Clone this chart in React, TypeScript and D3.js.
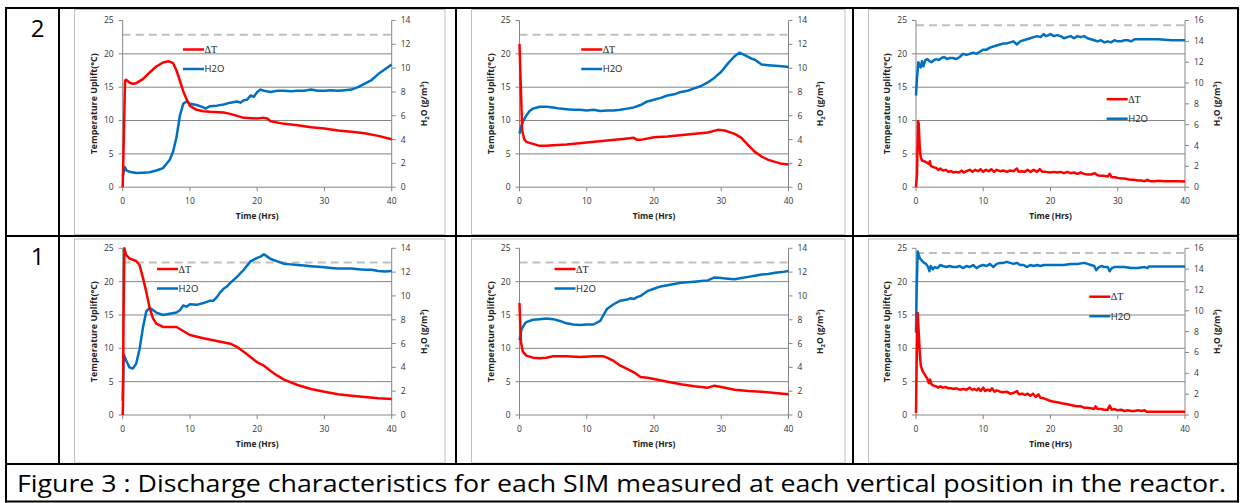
import React from 'react';
import * as d3 from 'd3';

type P = [number, number];

// ---------- axis ticks / labels ----------
const timeTicks = [0, 10, 20, 30, 40];
const tempTicks = [0, 5, 10, 15, 20, 25];
const tempGrid = [5, 10, 15, 20];
const h2oTicks14 = [0, 2, 4, 6, 8, 10, 12, 14];
const h2oTicks16 = [0, 2, 4, 6, 8, 10, 12, 14, 16];
const rowLabels = ['2', '1'];
const caption = 'Figure 3 : Discharge characteristics for each SIM measured at each vertical position in the reactor.';
const xTitle = 'Time (Hrs)';
const yTitle = 'Temperature Uplift(\u00B0C)';
const legendDT = '\u0394T';
const legendH2O = 'H2O';
// dashed reference line (right axis value) per column
const refLine = [12.8, 12.8, 15.55];

// ---------- data: position 2 (top row) ----------
const r2s1_dT: P[] = [[0,0],[0.2,9],[0.35,16],[0.5,16.1],[1,15.7],[1.5,15.5],[2,15.6],[3,16.2],[4,17.2],[5,18.1],[6,18.7],[6.8,18.9],[7.5,18.6],[8,17.5],[8.5,16],[9,14.4],[9.5,13.2],[10,12.2],[11,11.6],[12,11.4],[13,11.3],[15,11.2],[16,11.0],[17,10.7],[18,10.4],[20,10.3],[21,10.4],[21.5,10.3],[22,9.9],[24,9.5],[26,9.3],[28,9.0],[30,8.8],[32,8.5],[34,8.3],[36,8.1],[38,7.7],[40,7.2]];
const r2s1_h2o: P[] = [[0,0.9],[0.3,1.7],[0.6,1.4],[1,1.3],[2,1.2],[3,1.22],[4,1.25],[5,1.4],[6,1.6],[7,2.3],[7.5,3.0],[8,4.2],[8.5,6.0],[9,7.0],[9.5,7.2],[10,7.0],[11,6.9],[12,6.7],[12.3,6.6],[13,6.8],[14,6.85],[15,6.95],[16,7.1],[17,7.2],[17.5,7.1],[18,7.3],[18.5,7.35],[19,7.7],[19.5,7.6],[20,8.0],[20.5,8.2],[21,8.1],[22,8.0],[23,8.1],[24,8.1],[25,8.05],[26,8.1],[27,8.1],[28,8.2],[29,8.1],[30,8.1],[31,8.15],[32,8.1],[33,8.15],[34,8.2],[35,8.4],[36,8.7],[37,9.0],[38,9.5],[39,9.9],[40,10.3]];
const r2s2_dT: P[] = [[0,21.5],[0.2,15],[0.4,8.5],[0.7,7.2],[1,6.8],[2,6.5],[3,6.2],[4,6.2],[5,6.3],[7,6.4],[10,6.7],[13,7.0],[15,7.2],[17,7.4],[17.5,7.1],[18,7.1],[20,7.5],[22,7.6],[25,7.9],[28,8.2],[29.5,8.6],[30.5,8.5],[32,8.0],[33,7.4],[34,6.3],[35,5.3],[36,4.6],[37,4.1],[38,3.8],[39,3.5],[40,3.4]];
const r2s2_h2o: P[] = [[0,4.5],[0.2,5.0],[0.5,5.5],[1,6.0],[1.5,6.4],[2,6.6],[3,6.75],[4,6.75],[5,6.7],[6,6.6],[7,6.55],[8,6.5],[9,6.5],[10,6.45],[11,6.5],[12,6.4],[13,6.45],[14,6.45],[15,6.5],[16,6.6],[17,6.7],[18,6.9],[19,7.2],[20,7.35],[21,7.5],[22,7.7],[23,7.8],[24,8.0],[25,8.1],[26,8.3],[27,8.5],[28,8.8],[29,9.2],[30,9.7],[31,10.4],[32,11.0],[32.7,11.3],[33.5,11.1],[34.5,10.8],[35,10.7],[36,10.3],[37,10.25],[38,10.2],[39,10.15],[40,10.1]];
const r2s3_dT: P[] = [[0,0],[0.15,2],[0.3,9.9],[0.4,9.6],[0.55,6],[0.7,4.5],[0.9,4.0],[1.2,3.9],[1.6,3.7],[1.9,3.5],[2.05,3.9],[2.2,3.2],[2.6,3.0],[3,2.9],[3.3,2.6],[3.6,2.8],[4,2.5],[4.4,2.6],[4.8,2.3],[5.2,2.4],[5.6,2.2],[6,2.3],[6.4,2.2],[6.8,2.5],[7.1,2.2],[7.5,2.4],[8,2.6],[8.4,2.3],[8.8,2.6],[9.2,2.4],[9.6,2.7],[10,2.3],[10.4,2.6],[10.8,2.4],[11.2,2.7],[11.6,2.3],[12,2.6],[12.5,2.4],[13,2.5],[13.5,2.3],[14,2.5],[14.5,2.4],[15,2.8],[15.3,2.3],[15.8,2.4],[16.2,2.3],[16.6,2.6],[17,2.3],[17.5,2.6],[18,2.3],[18.4,2.7],[18.8,2.3],[19.3,2.3],[20,2.2],[20.5,2.3],[21,2.2],[21.5,2.3],[22,2.1],[22.5,2.3],[23,2.1],[23.5,2.2],[24,2.0],[24.5,2.2],[25,2.0],[25.5,1.9],[26,1.9],[26.6,2.1],[27,1.8],[27.5,1.7],[28,1.7],[28.5,1.6],[28.8,2.0],[29.1,1.5],[29.6,1.5],[30,1.4],[30.5,1.3],[31,1.3],[31.5,1.2],[32,1.1],[32.5,1.1],[33,1.0],[33.5,1.0],[34,0.9],[34.4,1.1],[34.8,0.9],[35.5,0.9],[36,0.95],[37,0.9],[38,0.9],[39,0.9],[40,0.85]];
const r2s3_h2o: P[] = [[0,8.8],[0.15,10.5],[0.35,12.0],[0.5,11.7],[0.7,11.5],[0.9,12.1],[1.1,11.6],[1.4,12.2],[1.7,12.3],[2,12.1],[2.3,12.0],[2.7,12.2],[3,12.3],[3.4,12.2],[3.8,12.4],[4.2,12.5],[4.6,12.3],[5,12.4],[5.5,12.4],[6,12.3],[6.5,12.5],[7,12.8],[7.5,12.7],[8,12.8],[8.5,12.9],[9,12.8],[9.5,13.0],[10,13.2],[10.5,13.2],[11,13.4],[11.5,13.5],[12,13.6],[12.5,13.7],[13,13.8],[13.5,13.8],[14,13.9],[14.5,14.0],[15,13.7],[15.5,14.0],[16,14.1],[16.5,14.2],[17,14.3],[17.5,14.4],[18,14.5],[18.5,14.4],[19,14.7],[19.3,14.5],[19.7,14.6],[20,14.7],[20.5,14.5],[21,14.6],[21.5,14.5],[22,14.3],[22.5,14.4],[23,14.5],[23.5,14.3],[24,14.5],[24.5,14.4],[25,14.5],[25.5,14.3],[26,14.2],[26.5,14.1],[27,14.0],[27.5,14.1],[28,13.9],[28.5,14.0],[29,13.9],[29.5,14.1],[30,14.0],[30.5,14.0],[31,14.1],[31.5,14.1],[32,14.0],[32.5,14.2],[33,14.2],[34,14.2],[35,14.2],[36,14.2],[37,14.15],[38,14.1],[39,14.1],[40,14.1]];

// ---------- data: position 1 (bottom row) ----------
const r1s1_dT: P[] = [[0,0],[0.05,2],[0.12,14],[0.25,25],[0.5,24],[1,23.5],[2,23.1],[2.5,22.5],[3,20.6],[3.5,18.5],[4,16.1],[4.5,14.5],[5,13.7],[6,13.2],[7,13.2],[8,13.2],[9,12.6],[10,12.0],[12,11.5],[14,11.1],[16,10.7],[17,10.2],[18,9.5],[19,8.7],[20,7.9],[21,7.4],[22,6.6],[23,5.9],[24,5.3],[26,4.5],[28,3.9],[30,3.5],[32,3.1],[34,2.9],[36,2.7],[38,2.5],[40,2.4]];
const r1s1_h2o: P[] = [[0,1.2],[0.15,5.1],[0.5,4.6],[1,4.0],[1.5,3.9],[2,4.3],[2.5,5.5],[3,7.3],[3.5,8.7],[4,9.0],[5,8.6],[6,8.4],[7,8.5],[8,8.6],[8.5,8.8],[9,9.2],[9.5,9.1],[10,9.3],[11,9.25],[12,9.4],[12.5,9.5],[13,9.6],[13.5,9.6],[14,9.9],[14.5,10.3],[15,10.6],[15.5,10.8],[16,11.1],[17,11.6],[18,12.2],[19,12.9],[20,13.2],[20.5,13.3],[21,13.5],[21.5,13.3],[22,13.1],[23,12.9],[24,12.7],[25,12.65],[26,12.6],[27,12.55],[28,12.5],[29,12.45],[30,12.4],[31,12.35],[32,12.3],[33,12.3],[34,12.3],[35,12.25],[36,12.2],[37,12.2],[38,12.1],[39,12.05],[40,12.1]];
const r1s2_dT: P[] = [[0,16.8],[0.2,11],[0.5,9.5],[1,8.9],[2,8.6],[3,8.5],[4,8.6],[5,8.8],[7,8.8],[9,8.7],[11,8.8],[12.5,8.8],[13,8.6],[14,8.1],[15,7.4],[16,6.9],[17,6.4],[18,5.7],[19,5.6],[20,5.4],[22,5.0],[24,4.6],[26,4.3],[28,4.1],[29,4.4],[30,4.2],[32,3.8],[34,3.6],[36,3.5],[38,3.3],[40,3.1]];
const r1s2_h2o: P[] = [[0,6.3],[0.3,7.2],[0.7,7.6],[1,7.8],[2,8.0],[3,8.05],[4,8.1],[5,8.05],[6,7.9],[7,7.7],[8,7.6],[9,7.55],[10,7.6],[11,7.6],[12,7.9],[12.5,8.4],[13,8.9],[14,9.3],[15,9.6],[16,9.7],[16.5,9.8],[17,9.75],[17.5,9.9],[18,10.0],[19,10.4],[20,10.6],[21,10.8],[22,10.9],[23,11.0],[24,11.1],[25,11.15],[26,11.2],[27,11.25],[28,11.3],[29,11.55],[30,11.5],[31,11.45],[32,11.4],[33,11.5],[34,11.6],[35,11.7],[36,11.8],[37,11.85],[38,11.95],[39,12.0],[40,12.1]];
const r1s3_dT: P[] = [[0,0.3],[0.1,8],[0.25,15.3],[0.4,12.5],[0.55,9.5],[0.7,7.5],[0.9,6.8],[1.1,6.4],[1.4,5.9],[1.7,5.4],[1.9,4.8],[2.1,5.3],[2.3,4.6],[2.6,4.4],[3,4.3],[3.3,4.1],[3.6,4.3],[4,4.1],[4.4,4.2],[4.8,4.0],[5.2,4.0],[5.6,3.9],[6,4.0],[6.5,3.8],[7,3.9],[7.5,3.8],[8,4.1],[8.3,3.8],[8.7,3.9],[9,3.7],[9.3,4.0],[9.6,3.6],[10,4.1],[10.3,3.6],[10.7,3.8],[11,3.6],[11.3,4.0],[11.7,3.5],[12,3.7],[12.5,3.5],[13,3.4],[13.5,3.5],[14,3.2],[14.5,3.3],[15,3.6],[15.3,3.1],[15.8,3.2],[16.2,3.0],[16.6,3.2],[17,2.9],[17.4,3.2],[17.8,2.7],[18.2,3.1],[18.5,2.6],[19,2.5],[19.5,2.3],[20,2.1],[20.5,2.0],[21,1.9],[21.5,1.8],[22,1.7],[22.5,1.6],[23,1.5],[23.5,1.4],[24,1.3],[24.5,1.3],[25,1.1],[25.5,1.1],[26,1.0],[26.5,0.9],[26.7,1.3],[27,0.9],[27.5,0.9],[28,0.8],[28.5,0.8],[28.8,1.4],[29.1,0.8],[29.5,0.9],[30,0.7],[30.5,0.8],[31,0.6],[31.5,0.7],[32,0.6],[32.5,0.6],[33,0.7],[33.5,0.6],[34,0.7],[34.3,0.5],[35,0.5],[40,0.5]];
const r1s3_h2o: P[] = [[0,7.9],[0.1,12],[0.25,15.7],[0.4,15.4],[0.6,15.0],[0.9,14.8],[1.2,14.6],[1.5,14.5],[1.8,14.2],[2.0,13.8],[2.2,14.3],[2.5,14.0],[2.8,14.2],[3.2,14.1],[3.6,14.4],[4,14.3],[4.5,14.2],[5,14.3],[5.5,14.2],[6,14.2],[6.5,14.3],[7,14.1],[7.5,14.3],[8,14.2],[8.5,14.4],[9,14.1],[9.5,14.3],[10,14.4],[10.5,14.3],[11,14.5],[11.5,14.2],[12,14.5],[12.5,14.6],[13,14.6],[13.5,14.7],[14,14.6],[14.5,14.5],[15,14.6],[15.5,14.4],[16,14.4],[16.5,14.2],[17,14.4],[17.5,14.3],[18,14.4],[18.5,14.3],[19,14.4],[19.5,14.4],[20,14.4],[21,14.4],[22,14.4],[23,14.5],[24,14.5],[25,14.6],[25.5,14.5],[26,14.4],[26.5,14.3],[26.8,13.9],[27.2,14.2],[27.6,14.3],[28,14.2],[28.5,14.2],[28.8,13.8],[29.1,14.1],[29.5,14.2],[30,14.2],[31,14.2],[32,14.1],[33,14.1],[34,14.2],[34.4,14.1],[34.6,14.25],[40,14.25]];

const dTSeries = [[r2s1_dT, r2s2_dT, r2s3_dT], [r1s1_dT, r1s2_dT, r1s3_dT]];
const h2oSeries = [[r2s1_h2o, r2s2_h2o, r2s3_h2o], [r1s1_h2o, r1s2_h2o, r1s3_h2o]];
const h2oTicksByCol = [h2oTicks14, h2oTicks14, h2oTicks16];

// ---------- layout ----------
const COL_PLOT_L = [122.7, 519.5, 916];
const PLOT_W = 269;
const ROW_PLOT_T = [20.5, 248.3];
const PLOT_H = 166.7;
const FRAME_X = [[74, 444.5], [471, 844.5], [868, 1260]];
const FRAME_Y = [[9, 234], [238.5, 462.5]];
const LEGEND_OFF = [[[60.3, 29], [61.7, 29], [190.7, 78.7]], [[34.3, 20.7], [35, 20.7], [173.3, 48.4]]];

const RED = '#FF0000';
const BLUE = '#0070C0';
const GRID = '#868686';
const SANS = "'Open Sans', 'Liberation Sans', sans-serif";
const NARROW = "'Liberation Sans Narrow', 'Open Sans', sans-serif";
const SERIF = "'Liberation Serif', 'DejaVu Serif', serif";

function Chart({ row, col }: { row: number; col: number }) {
  const L = COL_PLOT_L[col];
  const R = L + PLOT_W;
  const T = ROW_PLOT_T[row];
  const B = T + PLOT_H;
  const rTicks = h2oTicksByCol[col];
  const rMax = rTicks[rTicks.length - 1];
  const x = d3.scaleLinear().domain([0, 40]).range([L, R]);
  const yL = d3.scaleLinear().domain([0, 25]).range([B, T]);
  const yR = d3.scaleLinear().domain([0, rMax]).range([B, T]);
  const lineL = d3.line<P>().x(d => x(d[0])).y(d => yL(d[1]));
  const lineR = d3.line<P>().x(d => x(d[0])).y(d => yR(d[1]));
  const [fx0, fx1] = FRAME_X[col];
  const [fy0, fy1] = FRAME_Y[row];
  const [lx, ly] = LEGEND_OFF[row][col];
  const legX = L + lx;
  const legY = T + ly;
  return (
    <g>
      <rect x={fx0 + 0.5} y={fy0 + 0.5} width={fx1 - fx0} height={fy1 - fy0} fill="#fff" stroke="#BFBFBF" strokeWidth={1} />
      {tempGrid.map(v => (
        <line key={'g' + v} x1={L} x2={R} y1={yL(v)} y2={yL(v)} stroke={GRID} strokeWidth={1} />
      ))}
      <line x1={L} x2={R} y1={yR(refLine[col])} y2={yR(refLine[col])} stroke="#BFBFBF" strokeWidth={2} strokeDasharray="8,5" />
      <line x1={L} x2={L} y1={T} y2={B} stroke={GRID} strokeWidth={1} />
      <line x1={R} x2={R} y1={T} y2={B} stroke={GRID} strokeWidth={1} />
      <line x1={L} x2={R} y1={B} y2={B} stroke={GRID} strokeWidth={1} />
      {tempTicks.map(v => (
        <g key={'lt' + v}>
          <line x1={L - 4} x2={L} y1={yL(v)} y2={yL(v)} stroke={GRID} />
          <text x={L - 9} y={yL(v)} dy="0.35em" textAnchor="end" fontSize={8.5} fontFamily={SANS} fill="#333">{v}</text>
        </g>
      ))}
      {rTicks.map(v => (
        <g key={'rt' + v}>
          <line x1={R} x2={R + 4} y1={yR(v)} y2={yR(v)} stroke={GRID} />
          <text x={R + 9} y={yR(v)} dy="0.35em" textAnchor="start" fontSize={8.5} fontFamily={SANS} fill="#333">{v}</text>
        </g>
      ))}
      {timeTicks.map(v => (
        <g key={'xt' + v}>
          <line x1={x(v)} x2={x(v)} y1={B} y2={B + 4} stroke={GRID} />
          <text x={x(v)} y={B + 16.7} textAnchor="middle" fontSize={8.5} fontFamily={SANS} fill="#333">{v}</text>
        </g>
      ))}
      <text x={(L + R) / 2} y={B + 31.5} textAnchor="middle" fontSize={9} fontWeight="bold" fontFamily={SANS} fill="#222" textLength={42.7} lengthAdjust="spacingAndGlyphs">{xTitle}</text>
      <text transform={`translate(${L - 28.7},${(T + B) / 2}) rotate(-90)`} textAnchor="middle" dy="0.35em" fontSize={9} fontWeight="bold" fontFamily={SANS} fill="#222" textLength={101} lengthAdjust="spacingAndGlyphs">{yTitle}</text>
      <text transform={`translate(${R + 32},${(T + B) / 2}) rotate(-90)`} textAnchor="middle" dy="0.35em" fontSize={8.5} fontWeight="bold" fontFamily={SANS} fill="#222">
        H<tspan fontSize={6} dy={2}>2</tspan><tspan dy={-2}>O (g/m</tspan><tspan fontSize={6} dy={-3}>3</tspan><tspan dy={3}>)</tspan>
      </text>
      <path d={lineR(h2oSeries[row][col]) || ''} fill="none" stroke={BLUE} strokeWidth={2.5} strokeLinejoin="round" />
      <path d={lineL(dTSeries[row][col]) || ''} fill="none" stroke={RED} strokeWidth={2.5} strokeLinejoin="round" />
      <line x1={legX} x2={legX + 21} y1={legY} y2={legY} stroke={RED} strokeWidth={2.5} />
      <text x={legX + 21.5} y={legY} dy="0.35em" fontSize={10} fontFamily={SERIF} fill="#222">{legendDT}</text>
      <line x1={legX} x2={legX + 21} y1={legY + 19.5} y2={legY + 19.5} stroke={BLUE} strokeWidth={2.5} />
      <text x={legX + 21.5} y={legY + 19.5} dy="0.35em" fontSize={9.5} fontFamily={SANS} fill="#222">{legendH2O}</text>
    </g>
  );
}

export default function App() {
  const rows = [0, 1];
  const cols = [0, 1, 2];
  const rowTop = [8, 236];
  return (
    <svg width={1240} height={503} style={{ position: 'absolute', left: 0, top: 0, background: '#fff' }}>
      <rect x={0} y={0} width={1240} height={503} fill="#fff" />
      {rows.map(r => cols.map(c => <Chart key={r + '-' + c} row={r} col={c} />))}
      <g stroke="#000" strokeWidth={2} fill="none">
        <line x1={5} x2={1239} y1={8} y2={8} />
        <line x1={5} x2={1239} y1={501.5} y2={501.5} />
        <line x1={6} x2={6} y1={7} y2={502.5} />
        <line x1={1238} x2={1238} y1={7} y2={502.5} />
        <line x1={5} x2={1239} y1={236} y2={236} />
        <line x1={5} x2={1239} y1={464} y2={464} />
        <line x1={59} x2={59} y1={8} y2={464} />
        <line x1={456} x2={456} y1={8} y2={464} />
        <line x1={853} x2={853} y1={8} y2={464} />
      </g>
      {rowLabels.map((lab, i) => (
        <text key={lab} x={37.5} y={rowTop[i] + 28.7} textAnchor="middle" fontSize={24} fontFamily={SANS} fill="#000">{lab}</text>
      ))}
      <text x={17} y={492} fontSize={23} fontFamily={NARROW} fill="#000" textLength={1209} lengthAdjust="spacingAndGlyphs">{caption}</text>
    </svg>
  );
}
